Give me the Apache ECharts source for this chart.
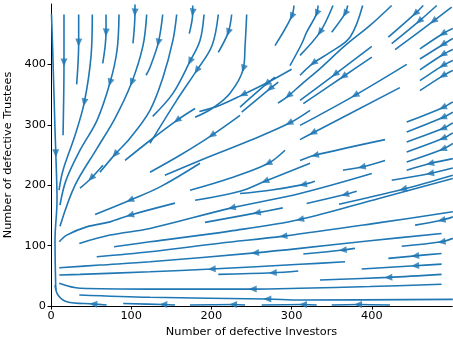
<!DOCTYPE html>
<html><head><meta charset="utf-8">
<script src="https://cdn.jsdelivr.net/npm/echarts@6/dist/echarts.min.js"></script>
<style>html,body{margin:0;padding:0;background:#fff}#c{width:453px;height:343px}</style>
</head><body><div id="c"></div>
<script>
const xTickValues=[0,100,200,300,400];
const yTickValues=[0,100,200,300,400];
const xLabel='Number of defective Investors';
const yLabel='Number of defective Trustees';

// streamlines: points ordered along the flow, a = index of the arrow point
const upperFan=[
 {a:3,p:[[0.6,484],[2.5,406.6],[5,291],[6,252.9],[7.5,175],[5,109],[6,26.4]]},
 {a:1,p:[[16.2,482.6],[16.2,403],[15,282.6]]},
 {a:1,p:[[34.5,482.6],[34.5,436],[32,367]]},
 {a:2,p:[[51.5,482.6],[50,415],[41.5,337],[30,282.6],[15,224.8],[10,191.7]]},
 {a:1,p:[[68.6,482.6],[68.6,453],[64.5,401.7]]},
 {a:2,p:[[84.8,482.6],[82.3,423],[73.6,370],[57.4,307.4],[36.2,257.9],[18.7,208],[11.2,167]]},
 {a:1,p:[[104.7,499],[104.7,486],[102.2,434.7]]},
 {a:2,p:[[119.3,482.6],[114.7,431],[100.6,370],[79.8,310.7],[57.4,261],[30,200],[11.2,132]]},
 {a:1,p:[[139.3,482.6],[133.8,436],[123.4,395],[118.5,382]]},
 {a:5,p:[[156.7,482.6],[152,439.7],[139.6,378.5],[123.4,324],[98.5,277.7],[79.8,251],[61,221.5]]},
 {a:1,p:[[176.7,497.5],[176.7,486],[172.4,451]]},
 {a:2,p:[[190.8,482.6],[185.8,439.7],[173.3,405],[152,352],[126.8,314]]},
 {a:2,p:[[208.6,482.6],[200.7,431],[181.7,390],[156.7,340.5],[123.4,269.4]]},
 {a:1,p:[[225.3,482.6],[221,453],[208.6,420]]},
 {a:2,p:[[244,482.6],[242,431],[239.8,393],[223,352],[200.7,327],[179.6,312.4]]},
 {a:1,p:[[303,497.5],[300,479],[279.3,431]]}
];
const upperRight=[
 {a:1,p:[[333,497.5],[331.3,484],[318.8,453.4],[312.6,434.2],[298,398]]},
 {a:1,p:[[351.6,497.5],[335.4,453.4],[310.5,415]]},
 {a:1,p:[[370,497.5],[366.6,484],[350,453.4]]},
 {a:3,p:[[388.6,497.5],[372.8,445],[347.9,419.8],[327,402],[310.5,382]]},
 {a:5,p:[[424.8,497.5],[397.8,464.5],[366.6,431],[335.4,393],[310.5,365],[296,348],[283,336]]},
 {a:1,p:[[464.2,497.5],[454,484],[420.6,445]]},
 {a:1,p:[[481,497.5],[459,471.6],[424.8,434.2]]},
 {a:1,p:[[499.6,494.7],[476.7,471.6],[429,424.3]]},
 {a:1,p:[[400,429.8],[354,383.5],[310.5,340.5]]},
 {a:1,p:[[400,412],[364.5,380],[314.6,335]]},
 {a:1,p:[[443.5,400],[379,348.8],[310.5,299]]},
 {a:1,p:[[435,361.5],[326.3,286.5],[310.5,275.5]]},
 {a:1,p:[[416.5,275.5],[329,249.6],[310.5,241]]},
 {a:1,p:[[416.5,241],[387.4,230],[364,224.8]]}
];
const rightEdge=[
 {a:1,p:[[501,459.5],[488.4,450.7],[460,425.7]]},
 {a:1,p:[[501,443],[488.4,432.6],[460,409]]},
 {a:1,p:[[501,424.8],[488.4,416],[460,391]]},
 {a:1,p:[[501,406.6],[488.4,398],[460,373]]},
 {a:1,p:[[501,390],[488.4,381],[460,356.5]]},
 {a:1,p:[[501,337.7],[488.4,328.4],[443.5,304.6]]},
 {a:1,p:[[501,321],[488.4,312],[443.5,288]]},
 {a:1,p:[[501,303],[488.4,293.7],[443.5,271.6]]},
 {a:1,p:[[501,286.5],[488.4,277.2],[443.5,255]]},
 {a:1,p:[[501,269],[488.4,259.5],[443.5,238.5]]},
 {a:1,p:[[501,244],[472.6,235.9],[443.5,224.8]]}
];
const midLines=[
 {a:1,p:[[279.3,379],[269,368],[235.7,329.4]]},
 {a:1,p:[[283.4,370.8],[273,359.8],[237.8,321]]},
 {a:2,p:[[300,392],[270,370],[239.4,350],[210,332],[185,322]]},
 {a:1,p:[[323,324],[296.8,302.5],[248,274],[185.8,241],[142,216.5]]},
 {a:1,p:[[291.8,257.9],[270.6,236],[223,211.6],[173.3,191.7]]},
 {a:1,p:[[235.7,315.7],[200.4,282.6],[160.8,249.6],[123.4,221.5]]},
 {a:1,p:[[179.6,327],[157,307.4],[123.4,274],[92.3,241]]}
];
const lowerLines=[
 {a:2,p:[[501,211],[410,178.5],[310.5,143.3],[223,124],[123.4,106.3],[78.6,98]]},
 {a:2,p:[[501,156],[410,138],[289.7,115.7],[210.7,104],[123.4,89.8],[57,81.5]]},
 {a:3,p:[[487,120],[397.8,108],[310.5,95.4],[254.4,88],[123.4,73.2],[61,67.8],[10.3,63.3]]},
 {a:2,p:[[366.6,73.2],[310.5,69],[200.4,61.2],[123.4,56.7],[36.2,52.4],[10.3,51.2]]},
 {a:3,p:[[487,35.9],[397.8,32.2],[310.5,29.3],[251.5,28],[123.4,28],[36.2,29.3],[10.3,37.5]]},
 {a:2,p:[[501,11],[310.5,9.9],[269.7,11.6],[123.4,14.4],[35.3,18.2]]},
 {a:2,p:[[400,219.3],[310.5,186.3],[225.3,162.5],[123.4,128.4],[73.6,117.4],[35.3,103.6]]},
 {a:1,p:[[329,206.6],[314.2,201],[273,191.7],[235.7,186.3]]},
 {a:1,p:[[323,236.4],[266.8,206.6],[235.7,190],[179.6,175]]},
 {a:1,p:[[501,228.4],[472.6,219.3],[424.8,208.3]]},
 {a:1,p:[[381.2,190],[366.6,184.6],[318.8,169.8]]},
 {a:1,p:[[501,216.5],[439,193.4],[359,168.6]]},
 {a:1,p:[[501,147.6],[487,142],[454,133.9]]},
 {a:1,p:[[501,112],[487,106.3],[437.3,99]]},
 {a:1,p:[[379,95.4],[363.7,92.6],[314.6,86]]},
 {a:1,p:[[487,87],[454,83],[420.6,78.8]]},
 {a:1,p:[[487,69.4],[454,66.6],[387.4,61.2]]},
 {a:1,p:[[487,52.4],[420.6,47.4],[335.4,43]]},
 {a:1,p:[[308.4,57.9],[276.5,55],[208.6,52.4]]},
 {a:1,p:[[289,162.5],[256.5,154.2],[192,138.4]]},
 {a:2,p:[[185.8,236.4],[136,197.2],[98.5,175.2],[54.9,151.6]]},
 {a:1,p:[[154.6,170.3],[98.5,150.4],[73.6,139.3],[44.5,131],[19.6,117.4],[10.3,106.3]]},
 {a:1,p:[[64.8,233],[50,211.6],[36.2,195]]}
];
const bottomLines=[
 {a:1,p:[[69.4,1.65],[52.7,3.3],[19.6,7.1],[8.7,18.2],[5,34.7]]},
 {a:1,p:[[154.6,1.65],[140,2.5],[90,4.1]]},
 {a:1,p:[[242,1.65],[227,2.5],[173.3,1.65]]},
 {a:1,p:[[331.3,1.65],[314.2,2.5],[262.7,1.65]]},
 {a:1,p:[[422.7,1.65],[382.8,2.5],[350,1.65]]}
];

const allLines=[...upperFan,...upperRight,...rightEdge,...midLines,...lowerLines,...bottomLines];
const COLOR='#1f77b4';
const FONT='DejaVu Sans';
const FS=11.3;
const chart=echarts.init(document.getElementById('c'),null,{renderer:'canvas'});
const lineSeries=allLines.map(l=>({type:'line',data:l.p,showSymbol:false,smooth:0.35,
  lineStyle:{color:COLOR,width:1.6},silent:true,clip:true,z:3}));
const axisCommon={type:'value',min:0,max:500,splitLine:{show:false},
  axisLine:{show:true,onZero:false,lineStyle:{color:'#000',width:1}},
  axisTick:{show:true,length:3.5,lineStyle:{color:'#000',width:1}},
  axisLabel:{color:'#000',fontSize:FS,fontFamily:FONT,margin:5},
  nameLocation:'middle',nameTextStyle:{color:'#000',fontSize:FS,fontFamily:FONT}};
chart.setOption({
  animation:false,
  grid:{left:51,right:1,top:4,bottom:37,containLabel:false,outerBoundsMode:'none'},
  xAxis:[
    Object.assign({},axisCommon,{position:'bottom',name:xLabel,nameGap:21,
      axisTick:Object.assign({},axisCommon.axisTick,{customValues:xTickValues}),
      axisLabel:Object.assign({},axisCommon.axisLabel,{customValues:xTickValues})}),
    {type:'value',min:0,max:500,position:'top',splitLine:{show:false},
      axisLine:{show:true,lineStyle:{color:'#000',width:1}},axisTick:{show:false},axisLabel:{show:false}}
  ],
  yAxis:[Object.assign({},axisCommon,{name:yLabel,nameGap:32.5,
      axisTick:Object.assign({},axisCommon.axisTick,{customValues:yTickValues}),
      axisLabel:Object.assign({},axisCommon.axisLabel,{customValues:yTickValues})})],
  series:lineSeries
});
const arrowData=allLines.map(l=>{
  const i=l.a;
  const p0=chart.convertToPixel({seriesIndex:0},l.p[Math.max(0,i-1)]);
  const p1=chart.convertToPixel({seriesIndex:0},l.p[Math.min(l.p.length-1,i+1)]);
  const ang=Math.atan2(-(p1[1]-p0[1]),p1[0]-p0[0])*180/Math.PI-90;
  return {value:l.p[i],symbolRotate:ang};
});
chart.setOption({series:[...lineSeries,{type:'scatter',data:arrowData,symbol:'triangle',
  symbolSize:[7,8],itemStyle:{color:COLOR},silent:true,z:5}]});
</script></body></html>
